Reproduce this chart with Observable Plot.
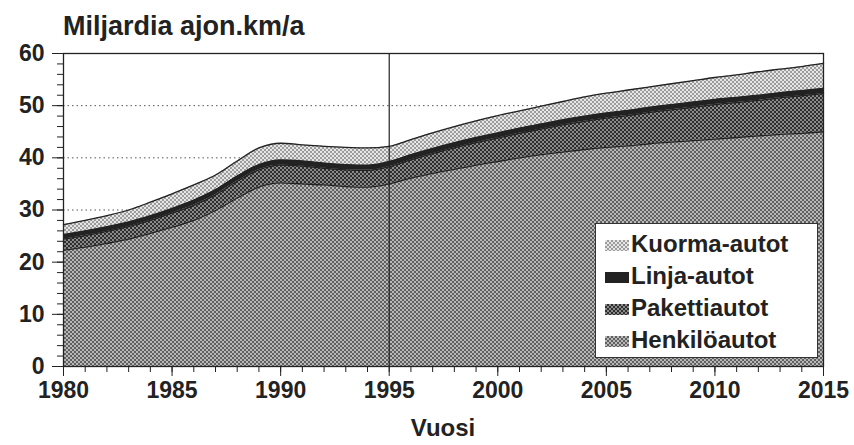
<!DOCTYPE html>
<html><head><meta charset="utf-8">
<script src="https://cdn.jsdelivr.net/npm/d3@7"></script>
<script src="https://cdn.jsdelivr.net/npm/@observablehq/plot@0.6"></script>
<style>
body{margin:0;background:#fff;font-family:"Liberation Sans",Arial,sans-serif;color:#222;}
#wrap{position:relative;width:854px;height:445px;overflow:hidden;}
#title{position:absolute;left:63px;top:11px;font-size:27px;font-weight:bold;white-space:nowrap;}
#chart{position:absolute;left:0;top:45px;}
#xlabel{position:absolute;left:0;width:854px;top:414px;text-align:center;font-size:24px;font-weight:bold;padding-left:32px;box-sizing:border-box;}
#legend{position:absolute;left:595px;top:223px;width:223px;height:135px;box-sizing:border-box;border:1px solid #333;background:#fff;padding:4px 0 0 9px;}
.item{height:32px;line-height:32px;font-size:24px;font-weight:bold;white-space:nowrap;}
.sw{display:inline-block;width:24px;height:11px;margin-right:2px;vertical-align:1px;}
</style></head>
<body>
<div id="wrap">
<div id="title">Miljardia ajon.km/a</div>
<div id="chart"></div>
<div id="xlabel">Vuosi</div>
<div id="legend"></div>
</div>
<script>
const years = d3.range(1980, 2016);
const types = ["Henkilöautot", "Pakettiautot", "Linja-autot", "Kuorma-autot"];
const henkiloautot = [22.3,22.9,23.6,24.4,25.5,26.7,28.0,29.9,32.3,34.4,35.2,35.0,34.8,34.5,34.4,35.0,36.1,37.0,37.8,38.6,39.3,40.0,40.6,41.1,41.6,42.0,42.3,42.7,43.0,43.3,43.6,43.9,44.2,44.5,44.7,45.0];
const pakettiautot = [2.1,2.2,2.3,2.4,2.5,2.7,2.9,3.0,3.2,3.3,3.4,3.4,3.2,3.2,3.2,3.3,3.5,3.8,4.1,4.3,4.5,4.7,4.9,5.2,5.4,5.6,5.8,6.0,6.2,6.4,6.6,6.7,6.8,7.0,7.2,7.3];
const linjaautot = [0.9,0.9,0.9,0.9,0.9,0.9,1.0,1.0,1.0,1.0,1.0,1.0,1.0,1.0,1.0,1.0,1.0,1.0,1.0,1.0,1.0,1.0,1.0,1.0,1.0,1.0,1.0,1.0,1.0,1.0,1.0,1.0,1.0,1.0,1.0,1.0];
const kuorma_autot = [1.9,2.0,2.1,2.3,2.6,2.8,2.9,2.8,2.9,3.2,3.2,3.1,3.2,3.3,3.3,2.9,2.9,3.0,3.1,3.2,3.3,3.3,3.4,3.5,3.7,3.8,3.9,3.9,4.0,4.1,4.2,4.3,4.5,4.5,4.6,4.8];
const xTicks = [1980,1985,1990,1995,2000,2005,2010,2015];
const yTicks = [0,10,20,30,40,50,60];
const gridValues = [30,40,50];

const series = [henkiloautot, pakettiautot, linjaautot, kuorma_autot];
const data = [];
types.forEach((t, i) => years.forEach((y, j) => data.push({year: y, type: t, value: series[i][j]})));

const fills = ["url(#pH)", "url(#pP)", "#222222", "url(#pK)"];

const chart = Plot.plot({
  width: 854,
  height: 365,
  marginLeft: 63,
  marginRight: 31,
  marginTop: 8,
  marginBottom: 44,
  style: {fontFamily: '"Liberation Sans", Arial, sans-serif', fontSize: "23px", fontWeight: "bold", color: "#222", background: "transparent", overflow: "visible"},
  x: {domain: [1980, 2015], label: null},
  y: {domain: [0, 60], label: null},
  color: {domain: types, range: fills},
  marks: [
    Plot.gridY(gridValues, {stroke: "#444", strokeOpacity: 0.9, strokeDasharray: "1.5,3", strokeWidth: 1}),
    Plot.areaY(data, {x: "year", y: "value", z: "type", fill: "type", order: types, curve: "monotone-x"}),
    Plot.lineY(data, Plot.stackY2({x: "year", y: "value", z: "type", order: types, stroke: "#222", strokeWidth: 1.3, curve: "monotone-x"})),
    Plot.ruleX([1995], {stroke: "#222", strokeWidth: 1.2}),
    Plot.frame({stroke: "#222", strokeWidth: 1.3}),
    Plot.axisY({ticks: d3.range(0, 61, 2), tickSize: 6, tickFormat: () => "", label: null, stroke: "#222"}),
    Plot.axisY({ticks: yTicks, tickSize: 11, tickPadding: 8, label: null, stroke: "#222", fill: "#222"}),
    Plot.axisX({ticks: d3.range(1980, 2016, 1), tickSize: 6, tickFormat: () => "", label: null, stroke: "#222"}),
    Plot.axisX({ticks: xTicks, tickSize: 10, tickPadding: 5, tickFormat: d => String(d), label: null, stroke: "#222", fill: "#222"})
  ]
});

const ns = "http://www.w3.org/2000/svg";
const defs = document.createElementNS(ns, "defs");
defs.innerHTML = `
<pattern id="pH" width="4" height="4" patternUnits="userSpaceOnUse"><rect width="4" height="4" fill="#b8b8b8"/><rect width="2" height="2" fill="#606060"/><rect x="2" y="2" width="2" height="2" fill="#606060"/></pattern>
<pattern id="pP" width="4" height="4" patternUnits="userSpaceOnUse"><rect width="4" height="4" fill="#8a8a8a"/><rect width="2" height="2" fill="#2e2e2e"/><rect x="2" y="2" width="2" height="2" fill="#2e2e2e"/></pattern>
<pattern id="pK" width="4" height="4" patternUnits="userSpaceOnUse"><rect width="4" height="4" fill="#e6e6e6"/><rect width="2" height="2" fill="#9c9c9c"/><rect x="2" y="2" width="2" height="2" fill="#9c9c9c"/></pattern>`;
chart.insertBefore(defs, chart.firstChild);
document.getElementById("chart").appendChild(chart);

const swatchCss = {
  "Kuorma-autot": "repeating-conic-gradient(#9c9c9c 0 25%, #e6e6e6 0 50%) 0 0/4px 4px",
  "Linja-autot": "#222222",
  "Pakettiautot": "repeating-conic-gradient(#2e2e2e 0 25%, #8a8a8a 0 50%) 0 0/4px 4px",
  "Henkilöautot": "repeating-conic-gradient(#606060 0 25%, #b8b8b8 0 50%) 0 0/4px 4px"
};
const legend = document.getElementById("legend");
types.slice().reverse().forEach(t => {
  const d = document.createElement("div");
  d.className = "item";
  const s = document.createElement("span");
  s.className = "sw";
  s.style.background = swatchCss[t];
  d.appendChild(s);
  d.appendChild(document.createTextNode(t));
  legend.appendChild(d);
});
</script>
</body></html>
